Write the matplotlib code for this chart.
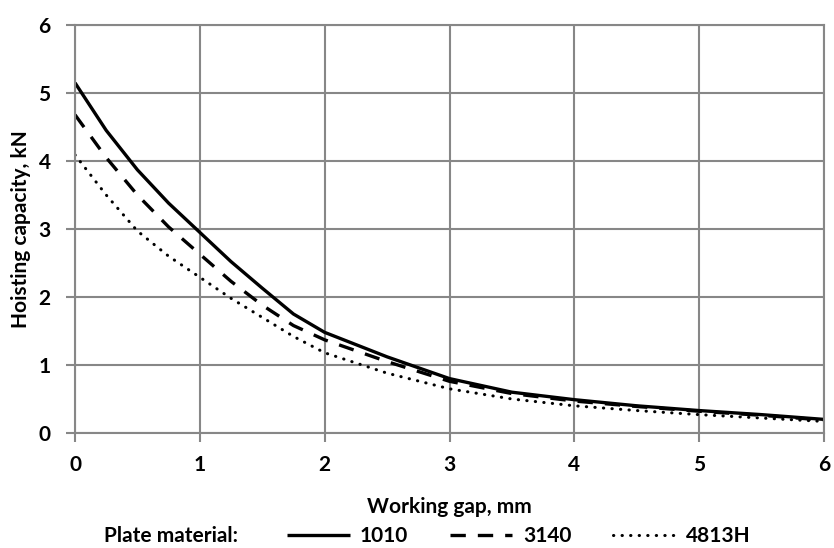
import matplotlib
matplotlib.use("Agg")
import matplotlib.pyplot as plt

gap = [0, 0.25, 0.5, 0.75, 1, 1.25, 1.5, 1.75, 2, 2.5, 3, 3.5, 4, 4.5, 5, 5.5, 6]
s1010 = [5.15, 4.45, 3.87, 3.38, 2.95, 2.52, 2.13, 1.75, 1.48, 1.12, 0.80, 0.60, 0.49, 0.40, 0.33, 0.27, 0.20]
s3140 = [4.68, 4.05, 3.50, 3.03, 2.63, 2.23, 1.88, 1.58, 1.37, 1.05, 0.76, 0.58, 0.47, 0.39, 0.32, 0.26, 0.19]
s4813 = [4.09, 3.50, 2.97, 2.60, 2.29, 1.98, 1.70, 1.42, 1.18, 0.88, 0.65, 0.50, 0.40, 0.33, 0.27, 0.22, 0.17]
labels = ["1010", "3140", "4813H"]

plt.rcParams['font.family'] = ['Lato', 'DejaVu Sans']
plt.rcParams['font.weight'] = 'bold'
FS = 15
GRAY = '#878787'

W, H = 834, 548
fig = plt.figure(figsize=(W/100, H/100), dpi=100)
ax = fig.add_axes([75/W, 1-433/H, (824-75)/W, (433-25)/H])

ax.plot(gap, s1010, color='black', lw=2.4, ls='-', label=labels[0], solid_capstyle='butt')
ax.plot(gap, s3140, color='black', lw=2.4, ls=(0, (4.6, 3.6)), label=labels[1])
ax.plot(gap, s4813, color='black', lw=2.2, ls=(0, (0.1, 2.7)), dash_capstyle='round', label=labels[2])

ax.set_xlim(0, 6)
ax.set_ylim(0, 6)
ax.set_xticks(range(7))
ax.set_yticks(range(7))
ax.grid(True, color=GRAY, lw=1.5)
ax.set_axisbelow(True)
for sp in ax.spines.values():
    sp.set_color(GRAY)
    sp.set_linewidth(1.5)
ax.tick_params(axis='both', direction='out', length=6.5, width=1.5, color=GRAY, labelsize=FS)
ax.tick_params(axis='y', pad=11)
ax.tick_params(axis='x', pad=9)
for t in ax.get_xticklabels() + ax.get_yticklabels():
    t.set_fontweight('bold')
ax.set_xlabel("Working gap, mm", fontsize=FS, fontweight='bold')
ax.xaxis.set_label_coords(0.5, (433-497)/408)
ax.set_ylabel("Hoisting capacity, kN", fontsize=FS, fontweight='bold')
ax.yaxis.set_label_coords((31-75)/749, 0.5)

fig.text(104/W, 1-536/H, "Plate material:", fontsize=FS, fontweight='bold', va='center', ha='left')
leg = fig.legend(loc='center left', bbox_to_anchor=(287/W, 1-536/H), ncol=3, frameon=False,
                 fontsize=FS, handlelength=3.0, handletextpad=0.5, columnspacing=2.0,
                 borderaxespad=0, borderpad=0)
for t in leg.get_texts():
    t.set_fontweight('bold')

fig.savefig("out.png", dpi=100)
